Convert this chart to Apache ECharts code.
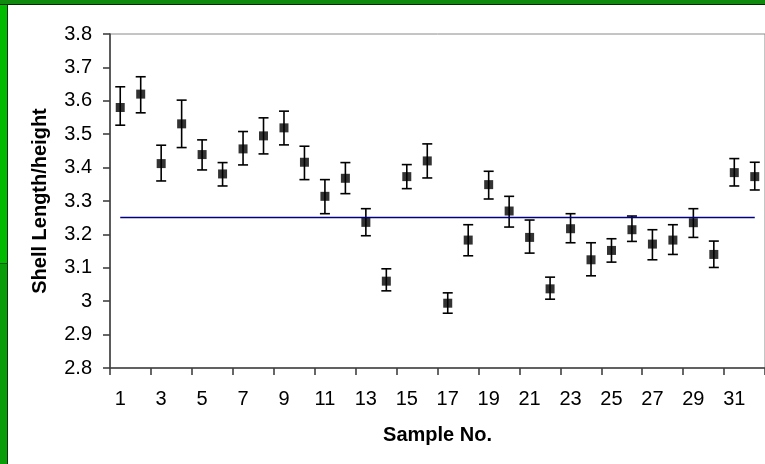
<!DOCTYPE html>
<html>
<head>
<meta charset="utf-8">
<script src="https://cdn.jsdelivr.net/npm/echarts@6/dist/echarts.min.js"></script>
<style>
  html, body { margin:0; padding:0; background:#fff; }
  #wrap { position:relative; width:765px; height:464px; overflow:hidden; background:#fff; }
  #chart { position:absolute; left:0; top:0; width:765px; height:464px; }
  .topbar { position:absolute; left:0; top:0; width:765px; height:4px; background:#0f8a0f; border-bottom:1px solid #012a01; z-index:2; }
  .leftA { position:absolute; left:0; top:0; width:7px; height:263px; background:#00bb00; border-right:1px solid #023302; z-index:1; }
  .leftB { position:absolute; left:0; top:263px; width:7px; height:201px; background:#0a9d0a; border-right:1px solid #023302; border-top:1px solid #0a5a0a; z-index:1; }
</style>
</head>
<body>
<div id="wrap">
  <div id="chart"></div>
  <div class="topbar"></div>
  <div class="leftA"></div>
  <div class="leftB"></div>
</div>
<script>
const categories = ['1','2','3','4','5','6','7','8','9','10','11','12','13','14','15','16',
                    '17','18','19','20','21','22','23','24','25','26','27','28','29','30','31','32'];
const means = [3.580, 3.620, 3.412, 3.531, 3.439, 3.381, 3.456, 3.495, 3.519, 3.416, 3.314, 3.368,
               3.236, 3.060, 3.373, 3.420, 2.994, 3.183, 3.349, 3.270, 3.191, 3.037, 3.217, 3.124,
               3.152, 3.214, 3.171, 3.183, 3.235, 3.140, 3.385, 3.373];
const upper = [3.642, 3.672, 3.467, 3.602, 3.483, 3.415, 3.508, 3.549, 3.569, 3.464, 3.364, 3.415,
               3.277, 3.097, 3.409, 3.471, 3.025, 3.229, 3.389, 3.314, 3.243, 3.072, 3.262, 3.175,
               3.187, 3.255, 3.214, 3.229, 3.277, 3.180, 3.427, 3.416];
const lower = [3.527, 3.564, 3.360, 3.460, 3.393, 3.345, 3.408, 3.441, 3.468, 3.364, 3.262, 3.322,
               3.196, 3.031, 3.337, 3.369, 2.964, 3.136, 3.306, 3.222, 3.144, 3.006, 3.175, 3.076,
               3.117, 3.179, 3.124, 3.140, 3.191, 3.101, 3.345, 3.333];
const overallMean = 3.25;
const yTicks = { min: 2.8, max: 3.8, interval: 0.1 };

const errData = categories.map((c, i) => [i, lower[i], upper[i]]);
const FONT = '"Liberation Sans", Arial, sans-serif';

const chart = echarts.init(document.getElementById('chart'), null, { renderer: 'canvas' });
chart.setOption({
  animation: false,
  backgroundColor: '#ffffff',
  grid: { left: 110, top: 34, width: 656, height: 334, show: true, borderColor: '#8a8a8a', borderWidth: 1, backgroundColor: 'transparent' },
  xAxis: {
    type: 'category',
    data: categories,
    boundaryGap: true,
    name: 'Sample No.',
    nameLocation: 'middle',
    nameGap: 57,
    nameTextStyle: { fontFamily: FONT, fontSize: 20, fontWeight: 'bold', color: '#000' },
    axisLine: { lineStyle: { color: '#404040', width: 1.6 } },
    axisTick: { show: true, interval: 1, length: 7, lineStyle: { color: '#404040', width: 1.6 } },
    axisLabel: { interval: 1, margin: 21, fontFamily: FONT, fontSize: 20, color: '#000' },
    splitLine: { show: false }
  },
  yAxis: {
    type: 'value',
    min: yTicks.min, max: yTicks.max, interval: yTicks.interval,
    name: 'Shell Length/height',
    nameLocation: 'middle',
    nameGap: 60,
    nameTextStyle: { fontFamily: FONT, fontSize: 20, fontWeight: 'bold', color: '#000' },
    axisLine: { show: true, lineStyle: { color: '#404040', width: 1.6 } },
    axisTick: { show: true, length: 7, lineStyle: { color: '#404040', width: 1.6 } },
    axisLabel: { margin: 18, fontFamily: FONT, fontSize: 20, color: '#000' },
    splitLine: { show: false }
  },
  series: [
    {
      type: 'custom',
      name: 'error',
      data: errData,
      z: 3,
      renderItem: function (params, api) {
        const x = api.value(0);
        const lo = api.coord([x, api.value(1)]);
        const hi = api.coord([x, api.value(2)]);
        const hw = 5;
        const style = { stroke: '#000', lineWidth: 1.6, fill: null };
        return {
          type: 'group',
          children: [
            { type: 'line', shape: { x1: hi[0], y1: hi[1], x2: lo[0], y2: lo[1] }, style: style },
            { type: 'line', shape: { x1: hi[0] - hw, y1: hi[1], x2: hi[0] + hw, y2: hi[1] }, style: style },
            { type: 'line', shape: { x1: lo[0] - hw, y1: lo[1], x2: lo[0] + hw, y2: lo[1] }, style: style }
          ]
        };
      }
    },
    {
      type: 'scatter',
      name: 'mean',
      data: means,
      symbol: 'rect',
      symbolSize: 9,
      z: 4,
      itemStyle: { color: '#000' },
      markLine: {
        silent: true,
        symbol: 'none',
        label: { show: false },
        lineStyle: { color: '#000080', width: 1.4, type: 'solid' },
        data: [[
          { coord: [categories[0], overallMean] },
          { coord: [categories[categories.length - 1], overallMean] }
        ]]
      }
    }
  ]
});
</script>
</body>
</html>
